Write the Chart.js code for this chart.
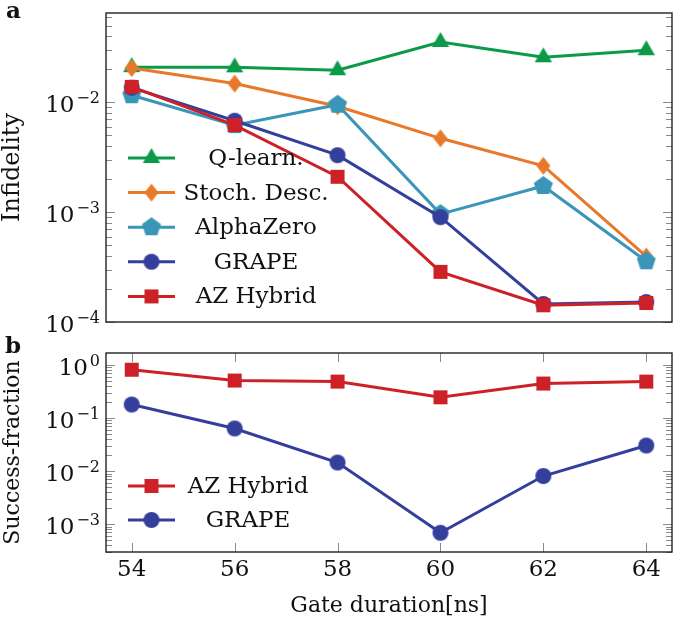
<!DOCTYPE html>
<html>
<head>
<meta charset="utf-8">
<script src="https://cdn.jsdelivr.net/npm/chart.js@4/dist/chart.umd.min.js"></script>
<style>
body { margin: 0; background: #fff; }
#wrap { position: relative; width: 685px; height: 623px; }
#wrap canvas { position: absolute; left: 0; top: 0; }
</style>
</head>
<body>
<div id="wrap">
    <canvas id="topChart" width="685" height="623"></canvas>
    <canvas id="bottomChart" width="685" height="623"></canvas>
</div>
<script>
const SERIF = '"DejaVu Serif", "Liberation Serif", serif';

// data
const durations = [54, 56, 58, 60, 62, 64];
const qLearn = [0.0209, 0.0208, 0.0196, 0.0354, 0.0257, 0.0298];
const stochDesc = [0.0205, 0.0148, 0.0092, 0.0047, 0.00264, 0.000395];
const alphaZero = [0.0116, 0.0062, 0.0095, 0.00096, 0.00173, 0.000357];
const grape = [0.0136, 0.0068, 0.0033, 0.0009, 0.000146, 0.000152];
const azHybrid = [0.0138, 0.0062, 0.0021, 0.000286, 0.000142, 0.000149];
const successAZ = [0.81, 0.506, 0.484, 0.245, 0.445, 0.484];
const successGrape = [0.179, 0.0634, 0.0145, 0.00069, 0.00807, 0.0303];
const infidelityExps = [-4, -3, -2];
const successExps = [-3, -2, -1, 0];
const xTicks = [54, 56, 58, 60, 62, 64];

const GREEN = '#0b9a47', ORANGE = '#e8792a', TEAL = '#3a96b9', BLUE = '#343f9c', RED = '#cd2128';

function makeMarker(shape, color) {
    const s = 26, m = s / 2;
    const c = document.createElement('canvas');
    c.width = s; c.height = s;
    const g = c.getContext('2d');
    g.fillStyle = color;
    g.beginPath();
    const poly = (n, r) => {
        for (let i = 0; i < n; i++) {
            const a = -Math.PI / 2 + i * 2 * Math.PI / n;
            g.lineTo(m + r * Math.cos(a), m + r * Math.sin(a));
        }
    };
    if (shape === 'triangle') poly(3, 10);
    else if (shape === 'pentagon') poly(5, 10);
    else if (shape === 'diamond') { g.moveTo(m, m - 9); g.lineTo(m + 7, m); g.lineTo(m, m + 9); g.lineTo(m - 7, m); }
    else if (shape === 'circle') g.arc(m, m, 8, 0, 2 * Math.PI);
    else g.rect(m - 7, m - 7, 14, 14);
    g.closePath();
    g.fill();
    return c;
}

function series(label, values, color, shape, order) {
    const marker = makeMarker(shape, color);
    return {
        label: label,
        data: durations.map((d, i) => ({ x: d, y: values[i] })),
        borderColor: color,
        backgroundColor: color,
        borderWidth: 3,
        pointStyle: marker,
        pointRadius: 10,
        order: order,
        clip: false,
        marker: marker
    };
}

// frame, inward tick marks, tick labels, panel letter, legend
const decorations = {
    id: 'decorations',
    afterDatasetsDraw(chart, args, opts) {
        const ctx = chart.ctx;
        const a = chart.chartArea;
        const y = chart.scales.y, x = chart.scales.x;
        ctx.save();
        ctx.strokeStyle = '#8a8a8a';
        ctx.lineWidth = 1;
        const lo = Math.floor(Math.log10(y.min)), hi = Math.ceil(Math.log10(y.max));
        for (let e = lo; e <= hi; e++) {
            for (let k = 1; k <= 9; k++) {
                const v = k * Math.pow(10, e);
                if (v < y.min * 0.999 || v > y.max * 1.001) continue;
                const p = Math.round(y.getPixelForValue(v)) + 0.5;
                const len = k === 1 ? 9 : 6;
                ctx.beginPath();
                ctx.moveTo(a.left, p); ctx.lineTo(a.left + len, p);
                ctx.moveTo(a.right - len, p); ctx.lineTo(a.right, p);
                ctx.stroke();
            }
        }
        if (opts.xMarks) {
            xTicks.forEach(v => {
                const p = Math.round(x.getPixelForValue(v)) + 0.5;
                ctx.beginPath();
                ctx.moveTo(p, a.top); ctx.lineTo(p, a.top + 9);
                ctx.moveTo(p, a.bottom - 9); ctx.lineTo(p, a.bottom);
                ctx.stroke();
            });
        }
        ctx.strokeStyle = '#222';
        ctx.lineWidth = 1.4;
        ctx.strokeRect(a.left, a.top, a.right - a.left, a.bottom - a.top);

        // y tick labels 10^n
        ctx.fillStyle = '#111';
        opts.exps.forEach(e => {
            const p = y.getPixelForValue(Math.pow(10, e));
            const expText = e < 0 ? '\u2212' + (-e) : String(e);
            ctx.font = '16px ' + SERIF;
            const ew = ctx.measureText(expText).width;
            ctx.textAlign = 'left';
            ctx.textBaseline = 'alphabetic';
            ctx.fillText(expText, 100 - ew, p + 1);
            ctx.font = '23px ' + SERIF;
            ctx.textAlign = 'right';
            ctx.fillText('10', 100 - ew - 2, p + 10);
        });

        // panel letter
        ctx.font = 'bold 23px ' + SERIF;
        ctx.textAlign = 'left';
        ctx.fillText(opts.letter, opts.letterPos[0], opts.letterPos[1]);

        // legend
        const lg = opts.legend;
        lg.items.forEach((ds, i) => {
            const ly = lg.y + i * lg.step;
            ctx.strokeStyle = ds.borderColor;
            ctx.lineWidth = 3;
            ctx.beginPath();
            ctx.moveTo(128, ly); ctx.lineTo(175, ly);
            ctx.stroke();
            ctx.drawImage(ds.marker, 151.5 - ds.marker.width / 2, ly - ds.marker.height / 2);
            ctx.font = '23px ' + SERIF;
            ctx.textAlign = 'center';
            ctx.textBaseline = 'middle';
            ctx.fillStyle = '#111';
            ctx.fillText(ds.label, lg.center, ly + 1);
        });
        ctx.restore();
    }
};

const topSets = [
    series('Q-learn.', qLearn, GREEN, 'triangle', 5),
    series('Stoch. Desc.', stochDesc, ORANGE, 'diamond', 4),
    series('AlphaZero', alphaZero, TEAL, 'pentagon', 3),
    series('GRAPE', grape, BLUE, 'circle', 2),
    series('AZ Hybrid', azHybrid, RED, 'square', 1)
];

new Chart(document.getElementById('topChart'), {
    type: 'line',
    data: { datasets: topSets },
    options: {
        responsive: false,
        animation: false,
        layout: { padding: { left: 0, right: 2, top: 1, bottom: 301 } },
        scales: {
            x: { type: 'linear', min: 53.5, max: 64.5, display: false },
            y: {
                type: 'logarithmic', min: 1e-4, max: 0.065,
                ticks: { display: false },
                grid: { display: false },
                border: { display: false },
                title: { display: true, text: 'Infidelity', color: '#111', padding: 0,
                         font: { family: SERIF, size: 24, lineHeight: 1.1 } },
                afterFit(s) { s.width = 106; }
            }
        },
        plugins: {
            legend: { display: false },
            tooltip: { enabled: false },
            decorations: {
                exps: infidelityExps, xMarks: false, letter: 'a', letterPos: [6, 18],
                legend: { items: topSets, y: 158, step: 34.6, center: 256 }
            }
        }
    },
    plugins: [decorations]
});

const bottomSets = [
    series('AZ Hybrid', successAZ, RED, 'square', 1),
    series('GRAPE', successGrape, BLUE, 'circle', 2)
];

new Chart(document.getElementById('bottomChart'), {
    type: 'line',
    data: { datasets: bottomSets },
    options: {
        responsive: false,
        animation: false,
        layout: { padding: { left: 0, right: 2, top: 353, bottom: 0 } },
        scales: {
            x: {
                type: 'linear', min: 53.5, max: 64.5,
                afterBuildTicks(s) { s.ticks = xTicks.map(v => ({ value: v })); },
                ticks: { color: '#111', padding: 4, font: { family: SERIF, size: 23 }, callback: v => String(v) },
                grid: { display: false, drawTicks: false },
                border: { display: false },
                title: { display: true, text: 'Gate duration[ns]', color: '#111', padding: { top: 0, bottom: 4 },
                         font: { family: SERIF, size: 22 } },
                afterFit(s) { s.height = 71; }
            },
            y: {
                type: 'logarithmic', min: 3.45e-4, max: 1.67,
                ticks: { display: false },
                grid: { display: false },
                border: { display: false },
                title: { display: true, text: 'Success-fraction', color: '#111', padding: 0,
                         font: { family: SERIF, size: 22, lineHeight: 1.2 } },
                afterFit(s) { s.width = 106; }
            }
        },
        plugins: {
            legend: { display: false },
            tooltip: { enabled: false },
            decorations: {
                exps: successExps, xMarks: true, letter: 'b', letterPos: [5, 353],
                legend: { items: bottomSets, y: 486, step: 34, center: 248 }
            }
        }
    },
    plugins: [decorations]
});
</script>
</body>
</html>
